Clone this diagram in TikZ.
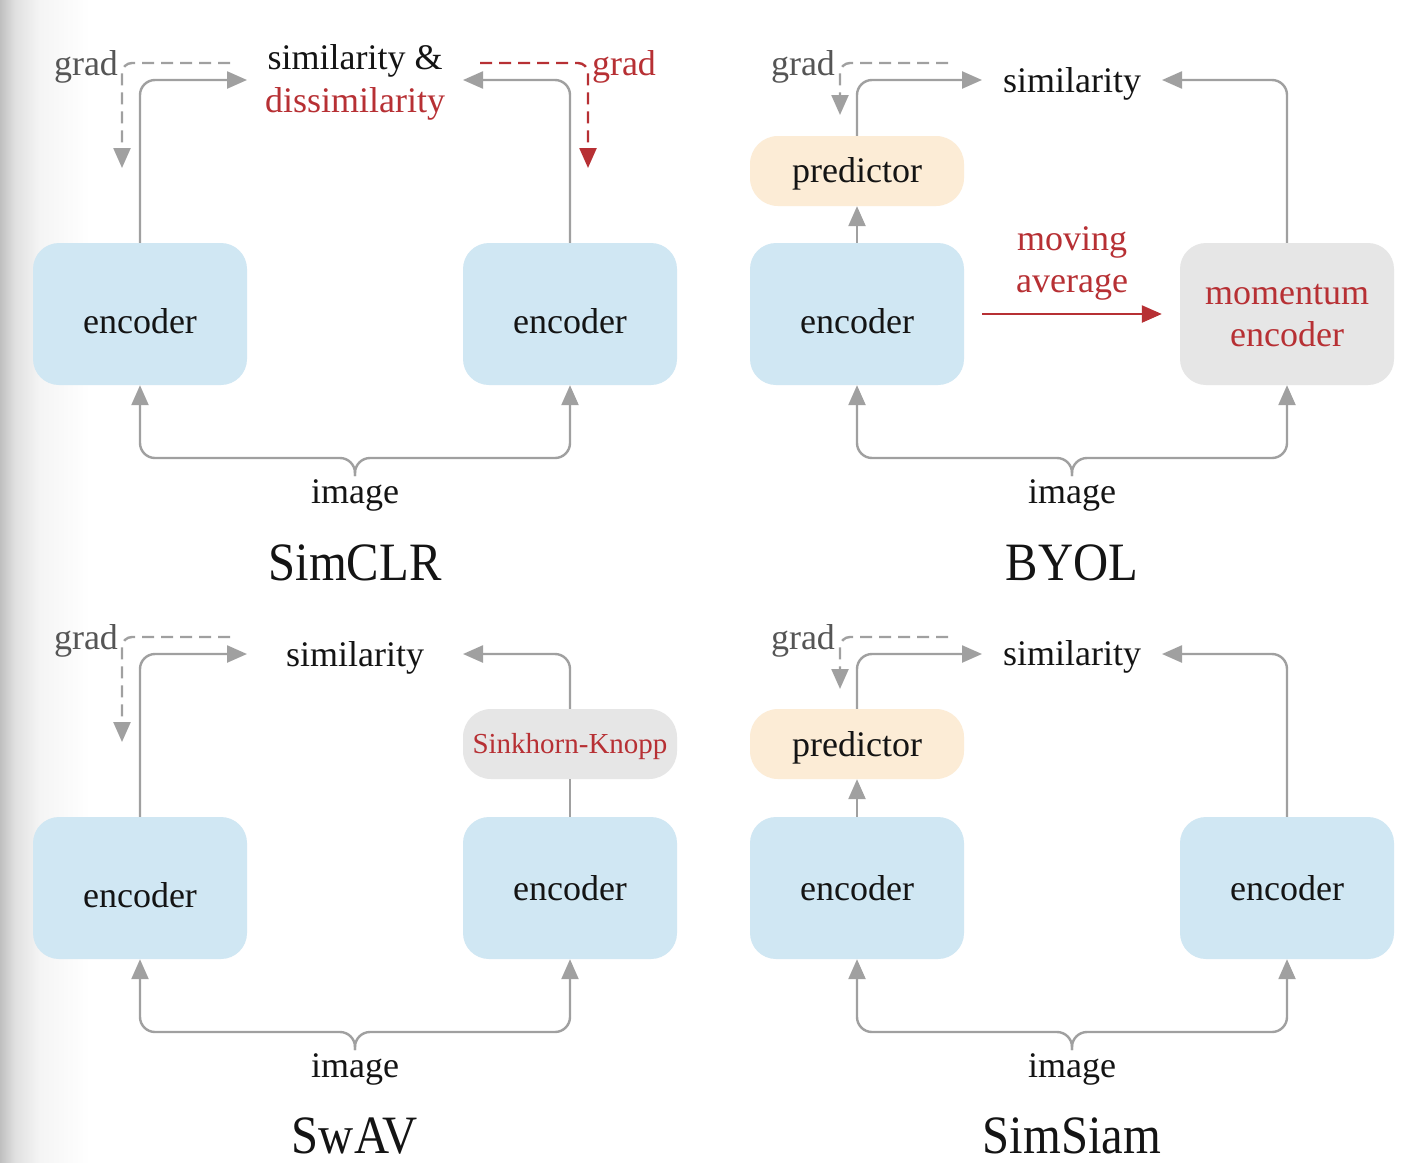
\documentclass[tikz,border=0pt]{standalone}
\usepackage{fontspec}
\setmainfont{Liberation Serif}
\usetikzlibrary{arrows.meta}

\definecolor{encblue}{RGB}{208,231,243}
\definecolor{peach}{RGB}{252,236,214}
\definecolor{boxgray}{RGB}{230,230,230}
\definecolor{linegray}{RGB}{160,160,160}
\definecolor{accent}{RGB}{183,48,52}
\definecolor{gradtext}{RGB}{85,85,85}
\definecolor{ink}{RGB}{20,20,20}

\begin{document}
\begin{tikzpicture}[x=1pt,y=-1pt,
  box/.style={rounded corners=26pt, minimum width=214pt, minimum height=142pt, inner sep=0pt},
  pill/.style={rounded corners=28pt, minimum width=214pt, minimum height=70pt, inner sep=0pt},
  encbox/.style={box, fill=encblue},
  txt/.style={anchor=base, inner sep=0pt, yshift=-2pt, text=ink, font=\fontsize{36}{43}\selectfont},
  redtxt/.style={txt, text=accent},
  gradlbl/.style={txt, text=gradtext},
  title/.style={anchor=base, inner sep=0pt, text=ink, font=\fontsize{54}{60}\selectfont},
  tip/.style={-{Triangle[length=20pt,width=17pt]}},
  conn/.style={draw=linegray, line width=2.4pt, rounded corners=15pt, tip},
  plainline/.style={draw=linegray, line width=2.4pt},
  gradline/.style={draw=linegray, line width=2.4pt, dash pattern=on 12pt off 7pt, rounded corners=10pt, tip},
  redgrad/.style={gradline, draw=accent, -{Triangle[length=20pt,width=17pt,fill=accent]}},
  maline/.style={draw=accent, line width=2.4pt, -{Triangle[length=20pt,width=17pt,fill=accent]}}
]
% page and soft shadow along the left edge
\useasboundingbox (0,0) rectangle (1418,1162);
\fill[white] (0,0) rectangle (1418,1162);
\shade[left color=black!25, right color=black!12] (0,0) rectangle (15,1162);
\shade[left color=black!12, right color=black!4] (15,0) rectangle (40,1162);
\shade[left color=black!4, right color=white] (40,0) rectangle (90,1162);

% ---------------- SimCLR ----------------
\node[encbox] (encA) at (140,314) {};
\node[encbox] (encB) at (570,314) {};
\node[txt] (encAt) at (140,331) {encoder};
\node[txt] (encBt) at (570,331) {encoder};
\node[txt] (simA) at (355,67) {similarity \&};
\node[redtxt] (dissimA) at (355,110) {dissimilarity};
\node[gradlbl] (gradA) at (86,73) {grad};
\node[redtxt] (gradB) at (624,73) {grad};
\node[txt] (imgA) at (355,501) {image};
\node[title] (titleA) at (355,580) {\scalebox{0.9}[1]{SimCLR}};
\coordinate (tAl) at (247,80);
\coordinate (tAr) at (463,80);
\coordinate (gAs) at (230,63);
\coordinate (gAe) at (122,168);
\coordinate (gBs) at (480,63);
\coordinate (gBe) at (588,168);
\coordinate (bA) at (355,476);
\draw[conn] (encA.north) |- (tAl);
\draw[conn] (encB.north) |- (tAr);
\draw[gradline] (gAs) -| (gAe);
\draw[redgrad] (gBs) -| (gBe);
\draw[conn] (bA) -- ++(0,-18) -| (encA.south);
\draw[conn] (bA) -- ++(0,-18) -| (encB.south);

% ---------------- BYOL ----------------
\node[encbox] (encC) at (857,314) {};
\node[pill, fill=peach] (predC) at (857,171) {};
\node[box, fill=boxgray] (momC) at (1287,314) {};
\node[txt] (encCt) at (857,331) {encoder};
\node[txt] (predCt) at (857,180) {predictor};
\node[redtxt] (momCt1) at (1287,302) {momentum};
\node[redtxt] (momCt2) at (1287,344) {encoder};
\node[redtxt] (maC1) at (1072,248) {moving};
\node[redtxt] (maC2) at (1072,290) {average};
\node[txt] (simC) at (1072,90) {similarity};
\node[gradlbl] (gradC) at (803,73) {grad};
\node[txt] (imgC) at (1072,501) {image};
\node[title] (titleC) at (1072,580) {\scalebox{0.9}[1]{BYOL}};
\coordinate (tCl) at (982,80);
\coordinate (tCr) at (1162,80);
\coordinate (gCs) at (948,63);
\coordinate (gCe) at (840,115);
\coordinate (bC) at (1072,476);
\draw[conn] (encC.north) -- (predC.south);
\draw[conn] (predC.north) |- (tCl);
\draw[conn] (momC.north) |- (tCr);
\draw[gradline] (gCs) -| (gCe);
\draw[maline, shorten <=18pt, shorten >=18pt] (encC.east) -- (momC.west);
\draw[conn] (bC) -- ++(0,-18) -| (encC.south);
\draw[conn] (bC) -- ++(0,-18) -| (momC.south);

% ---------------- SwAV ----------------
\node[encbox] (encD) at (140,888) {};
\node[encbox] (encE) at (570,888) {};
\node[pill, fill=boxgray] (skE) at (570,744) {};
\node[txt] (encDt) at (140,905) {encoder};
\node[txt] (encEt) at (570,898) {encoder};
\node[redtxt, font=\fontsize{29}{34}\selectfont] (skEt) at (570,751) {Sinkhorn-Knopp};
\node[txt] (simD) at (355,664) {similarity};
\node[gradlbl] (gradD) at (86,647) {grad};
\node[txt] (imgD) at (355,1075) {image};
\node[title] (titleD) at (355,1153) {\scalebox{0.9}[1]{SwAV}};
\coordinate (tDl) at (247,654);
\coordinate (tDr) at (463,654);
\coordinate (gDs) at (230,637);
\coordinate (gDe) at (122,742);
\coordinate (bD) at (355,1050);
\draw[conn] (encD.north) |- (tDl);
\draw[plainline] (encE.north) -- (skE.south);
\draw[conn] (skE.north) |- (tDr);
\draw[gradline] (gDs) -| (gDe);
\draw[conn] (bD) -- ++(0,-18) -| (encD.south);
\draw[conn] (bD) -- ++(0,-18) -| (encE.south);

% ---------------- SimSiam ----------------
\node[encbox] (encF) at (857,888) {};
\node[pill, fill=peach] (predF) at (857,744) {};
\node[encbox] (encG) at (1287,888) {};
\node[txt] (encFt) at (857,898) {encoder};
\node[txt] (encGt) at (1287,898) {encoder};
\node[txt] (predFt) at (857,754) {predictor};
\node[txt] (simF) at (1072,663) {similarity};
\node[gradlbl] (gradF) at (803,647) {grad};
\node[txt] (imgF) at (1072,1075) {image};
\node[title] (titleF) at (1072,1153) {\scalebox{0.9}[1]{SimSiam}};
\coordinate (tFl) at (982,654);
\coordinate (tFr) at (1162,654);
\coordinate (gFs) at (948,637);
\coordinate (gFe) at (840,689);
\coordinate (bF) at (1072,1050);
\draw[conn] (encF.north) -- (predF.south);
\draw[conn] (predF.north) |- (tFl);
\draw[conn] (encG.north) |- (tFr);
\draw[gradline] (gFs) -| (gFe);
\draw[conn] (bF) -- ++(0,-18) -| (encF.south);
\draw[conn] (bF) -- ++(0,-18) -| (encG.south);
\end{tikzpicture}
\end{document}
